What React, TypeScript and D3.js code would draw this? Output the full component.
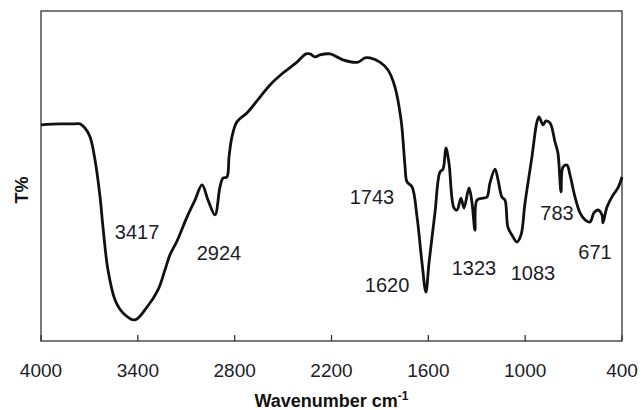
import React from 'react';
import * as d3 from 'd3';

// FTIR spectrum
const wavenumbers = [
  4000, 3882, 3789, 3758, 3727, 3696, 3665, 3634, 3616, 3585, 3541, 3492, 3418, 3343, 3275, 3232,
  3201, 3157, 3095, 3046, 3002, 2965, 2922, 2891, 2872, 2848, 2835, 2817, 2786, 2724, 2643, 2581,
  2501, 2414, 2358, 2333, 2302, 2271, 2209, 2166, 2129, 2036, 1993, 1962, 1900, 1850, 1807, 1769,
  1757, 1745, 1732, 1701, 1670, 1639, 1615, 1596, 1559, 1528, 1509, 1491, 1472, 1441, 1422, 1398,
  1379, 1348, 1330, 1311, 1299, 1261, 1237, 1218, 1187, 1168, 1144, 1125, 1107, 1082, 1051, 1026,
  1001, 958, 927, 914, 890, 871, 846, 815, 797, 778, 766, 741, 722, 691, 660, 629,
  598, 574, 549, 524, 518, 493, 456, 425, 400,
];
const transmittance = [
  65.5, 65.8, 65.8, 65.8, 64.5, 61.8, 54.8, 43.6, 34.5, 21.5, 12.4, 8.5, 6.4, 10.3, 15.5, 21.5,
  26.1, 30.3, 37.6, 42.7, 47.3, 42.7, 38.2, 46.7, 49.4, 49.7, 55.8, 61.8, 66.4, 69.1, 73.9, 77.6,
  81.2, 84.5, 87.0, 87.0, 86.1, 86.7, 87.0, 86.1, 85.2, 84.5, 85.8, 85.8, 84.5, 82.1, 77.0, 67.0,
  60.9, 53.3, 48.2, 46.7, 37.6, 23.6, 14.8, 23.6, 38.8, 51.2, 52.1, 58.5, 53.9, 40.3, 39.7, 43.3,
  40.3, 46.4, 42.1, 33.6, 42.7, 43.3, 43.6, 47.9, 52.1, 48.8, 43.6, 42.7, 34.5, 32.1, 30.0, 32.1,
  41.8, 55.8, 66.4, 67.9, 65.5, 66.7, 66.1, 60.3, 57.0, 45.2, 52.7, 53.3, 50.3, 43.6, 38.8, 36.7,
  36.1, 38.8, 39.7, 38.2, 35.8, 40.6, 44.2, 46.4, 49.7,
];

const xTicks = [4000, 3400, 2800, 2200, 1600, 1000, 400];

// peak annotations: label text, wavenumber position, T position
const peakLabels = ['3417', '2924', '1743', '1620', '1323', '1083', '783', '671'];
const peakX = [3405, 2897, 1949, 1856, 1317, 952, 803, 567];
const peakY = [33, 26.7, 43.6, 17, 22.1, 20.6, 38.8, 27];

const width = 642;
const height = 410;
const margin = { top: 11, right: 20, bottom: 69, left: 41 };

export default function App() {
  const innerW = width - margin.left - margin.right;
  const innerH = height - margin.top - margin.bottom;

  const x = d3.scaleLinear().domain([4000, 400]).range([0, innerW]);
  const y = d3.scaleLinear().domain([0, 100]).range([innerH, 0]);

  const points: [number, number][] = wavenumbers.map((w, i) => [w, transmittance[i]]);
  const line = d3
    .line<[number, number]>()
    .x((d) => x(d[0]))
    .y((d) => y(d[1]))
    .curve(d3.curveCatmullRom.alpha(0.5));

  const font = 'Arial, "Liberation Sans", sans-serif';

  return (
    <svg
      width={width}
      height={height}
      style={{ position: 'absolute', left: 0, top: 0, background: '#fff' }}
    >
      <g transform={`translate(${margin.left},${margin.top})`}>
        <rect x={0} y={0} width={innerW} height={innerH} fill="none" stroke="#333" strokeWidth={1.3} />
        {xTicks.map((t) => (
          <g key={t} transform={`translate(${x(t)},${innerH})`}>
            <line y1={0} y2={-6} stroke="#333" strokeWidth={1.3} />
            <text
              y={36}
              textAnchor="middle"
              fontFamily={font}
              fontSize={19}
              fill="#1c1c2a"
            >
              {t}
            </text>
          </g>
        ))}
        <path d={line(points) ?? ''} fill="none" stroke="#111" strokeWidth={2.8} strokeLinejoin="round" />
        {peakLabels.map((lab, i) => (
          <text
            key={lab}
            x={x(peakX[i])}
            y={y(peakY[i])}
            textAnchor="middle"
            dominantBaseline="central"
            fontFamily={font}
            fontSize={20}
            fill="#1c1c2a"
          >
            {lab}
          </text>
        ))}
      </g>
      <text
        x={margin.left + innerW / 2}
        y={407}
        textAnchor="middle"
        fontFamily={font}
        fontSize={18}
        fontWeight="bold"
        fill="#111"
      >
        Wavenumber cm
        <tspan dy={-7} fontSize={12}>-1</tspan>
      </text>
      <text
        transform="translate(28,190) rotate(-90)"
        textAnchor="middle"
        fontFamily={font}
        fontSize={18}
        fontWeight="bold"
        fill="#111"
      >
        T%
      </text>
    </svg>
  );
}
